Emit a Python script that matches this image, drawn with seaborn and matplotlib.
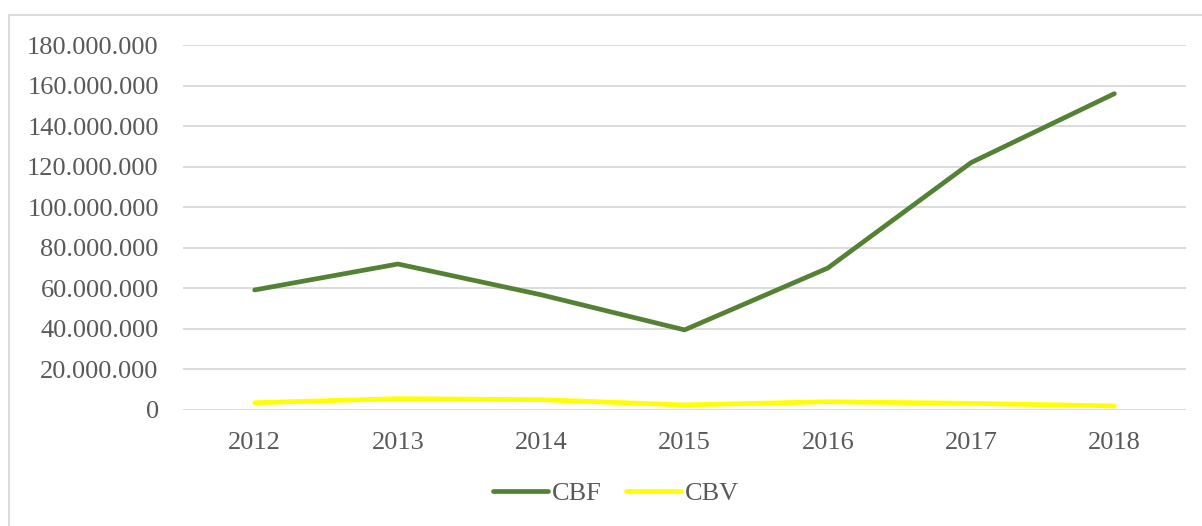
import matplotlib
matplotlib.use("Agg")
import matplotlib.pyplot as plt
import matplotlib.ticker as mticker
from matplotlib.patches import Rectangle
from matplotlib.lines import Line2D
import seaborn as sns
import pandas as pd

years = ["2012", "2013", "2014", "2015", "2016", "2017", "2018"]
cbf = [59_200_000, 72_000_000, 56_800_000, 39_500_000, 70_000_000, 122_000_000, 156_000_000]
cbv = [3_600_000, 5_600_000, 5_100_000, 2_500_000, 4_100_000, 3_300_000, 2_000_000]
series_names = ["CBF", "CBV"]
colors = ["#548235", "#FFFF00"]

df = pd.DataFrame({
    "year": years * 2,
    "value": cbf + cbv,
    "series": [series_names[0]] * len(years) + [series_names[1]] * len(years),
})

sns.set_theme(style="white")
plt.rcParams["font.family"] = ["Liberation Serif", "DejaVu Serif"]
text_color = "#595959"

fig = plt.figure(figsize=(12.02, 5.26), dpi=100)
ax = fig.add_axes([183 / 1202, 1 - 410 / 526, (1186 - 183) / 1202, (410 - 45) / 526])

sns.lineplot(data=df, x="year", y="value", hue="series", palette=colors, ax=ax,
             linewidth=3.4, sort=False, legend=False)
for line in ax.get_lines():
    line.set_solid_capstyle("round")
    line.set_solid_joinstyle("round")

ax.set_xlim(-0.5, len(years) - 0.5)
ax.set_ylim(0, 180_000_000)
ax.yaxis.set_major_locator(mticker.MultipleLocator(20_000_000))
ax.yaxis.set_major_formatter(mticker.FuncFormatter(lambda v, p: f"{int(v):,}".replace(",", ".")))
ax.grid(axis="y", color="#D9D9D9", linewidth=1.3)
ax.set_axisbelow(True)
for s in ax.spines.values():
    s.set_visible(False)
ax.set_xlabel("")
ax.set_ylabel("")
ax.tick_params(axis="both", length=0, labelsize=19, colors=text_color)
ax.tick_params(axis="y", pad=17.5)
ax.tick_params(axis="x", pad=16)

handles = [Line2D([0], [0], color=c, linewidth=3.4, solid_capstyle="round") for c in colors]
leg = fig.legend(handles, series_names, loc="center", bbox_to_anchor=(616 / 1202, 1 - 493 / 526),
                 ncol=2, frameon=False, fontsize=19, handlelength=2.1, handletextpad=0.15,
                 columnspacing=0.9)
for t in leg.get_texts():
    t.set_color(text_color)

fig.patches.append(Rectangle((9 / 1202, -0.05), 1.2, 1 - 15 / 526 + 0.05, transform=fig.transFigure,
                             fill=False, edgecolor="#D9D9D9", linewidth=1.3))

fig.savefig("out.png", dpi=100)
